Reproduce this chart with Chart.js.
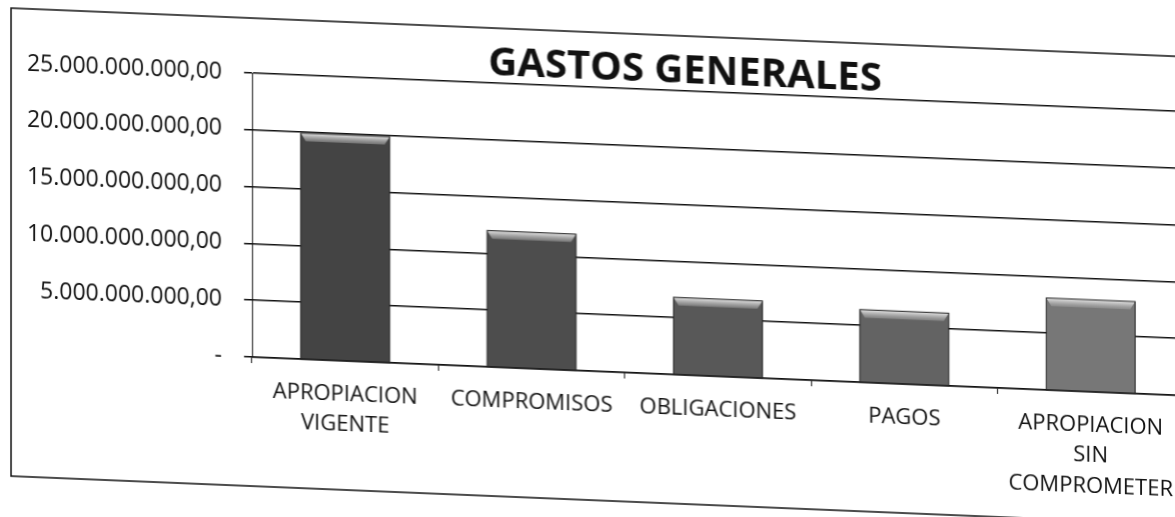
<!DOCTYPE html>
<html lang="es">
<head>
<meta charset="utf-8">
<title>Gastos generales</title>
<script src="https://cdn.jsdelivr.net/npm/chart.js@4.4.1/dist/chart.umd.min.js"></script>
<style>
    html, body { margin: 0; padding: 0; background: #fff; overflow: hidden; }
    #chartBox { width: 1185px; height: 517px; }
    /* la hoja escaneada está ligeramente inclinada */
    #gastosChart { transform: skewY(2.37deg); transform-origin: 250px 357px; }
</style>
</head>
<body>
<div id="chartBox"><canvas id="gastosChart" width="1185" height="517"></canvas></div>
<script>
// Categorías del eje X
const categorias = [
    ['APROPIACION', 'VIGENTE'],
    'COMPROMISOS',
    'OBLIGACIONES',
    'PAGOS',
    ['APROPIACION', 'SIN', 'COMPROMETER']
];

// Valores (pesos)
const valores = [19900000000, 12000000000, 6800000000, 6400000000, 8100000000];

// Marcas del eje Y
const marcasY = [0, 5000000000, 10000000000, 15000000000, 20000000000, 25000000000];

// Colores de las barras (tono del escaneo)
const coloresBarras = ['#444444', '#4d4d4d', '#585858', '#636363', '#777777'];

const tituloGrafico = 'GASTOS GENERALES';

/**
 * Formato 25.000.000.000,00 ; el cero se muestra como "-"
 */
function formatoPesos(v) {
    if (v === 0) {
        return '-';
    }
    const entero = Math.round(v).toString().replace(/\B(?=(\d{3})+(?!\d))/g, '.');
    return entero + ',00';
}

// Marco exterior y título
const marcoPlugin = {
    id: 'marco',
    beforeDraw(chart) {
        const ctx = chart.ctx;
        ctx.save();
        ctx.fillStyle = '#ffffff';
        ctx.fillRect(0, 0, chart.width, chart.height);
        ctx.strokeStyle = '#111';
        ctx.lineWidth = 1.5;
        ctx.strokeRect(11, 18, chart.width + 20, 468);
        ctx.restore();
    },
    afterDraw(chart) {
        const ctx = chart.ctx;
        ctx.save();
        ctx.font = 'bold 40px "Open Sans"';
        ctx.fillStyle = '#111';
        ctx.textAlign = 'center';
        ctx.textBaseline = 'middle';
        ctx.fillText(tituloGrafico, 685, 54);
        ctx.restore();
    }
};

// Bisel claro en la parte superior de cada barra
const biselPlugin = {
    id: 'bisel',
    afterDatasetsDraw(chart) {
        const ctx = chart.ctx;
        const meta = chart.getDatasetMeta(0);
        meta.data.forEach(function(bar) {
            const p = bar.getProps(['x', 'y', 'width'], true);
            const izq = p.x - p.width / 2;
            const der = p.x + p.width / 2;
            const alto = 8;
            const grad = ctx.createLinearGradient(0, p.y, 0, p.y + alto);
            grad.addColorStop(0, '#e6e6e6');
            grad.addColorStop(1, 'rgba(150,150,150,0.6)');
            ctx.save();
            ctx.beginPath();
            ctx.moveTo(izq, p.y);
            ctx.lineTo(der, p.y);
            ctx.lineTo(der - 5, p.y + alto);
            ctx.lineTo(izq + 5, p.y + alto);
            ctx.closePath();
            ctx.fillStyle = grad;
            ctx.fill();
            ctx.strokeStyle = '#222';
            ctx.lineWidth = 1;
            ctx.strokeRect(izq, p.y, p.width, chart.scales.y.getPixelForValue(0) - p.y);
            ctx.restore();
        });
    }
};

const ctx = document.getElementById('gastosChart').getContext('2d');
const gastosChart = new Chart(ctx, {
    type: 'bar',
    data: {
        labels: categorias,
        datasets: [{
            data: valores,
            backgroundColor: coloresBarras,
            borderWidth: 0,
            categoryPercentage: 1,
            barPercentage: 0.477
        }]
    },
    options: {
        responsive: false,
        animation: false,
        layout: {
            padding: { top: 73, right: 0, bottom: 0, left: 0 }
        },
        plugins: {
            legend: { display: false },
            tooltip: { enabled: false },
            title: { display: false }
        },
        scales: {
            x: {
                offset: true,
                grid: {
                    display: true,
                    drawOnChartArea: false,
                    drawTicks: true,
                    tickLength: 6,
                    color: '#111',
                    lineWidth: 1
                },
                border: { display: true, color: '#111', width: 1.5 },
                ticks: {
                    color: '#111',
                    padding: 12,
                    maxRotation: 0,
                    autoSkip: false,
                    font: { family: '"Open Sans"', size: 22, lineHeight: 1.4 }
                },
                afterFit: function(scale) {
                    scale.height = 517 - 357;
                }
            },
            y: {
                min: 0,
                max: 25000000000,
                grid: {
                    color: '#111',
                    lineWidth: 1.5,
                    tickLength: 8
                },
                border: { display: true, color: '#111', width: 1 },
                ticks: {
                    color: '#111',
                    padding: 22,
                    font: { family: '"Open Sans"', size: 23 },
                    callback: function(value) {
                        return formatoPesos(value);
                    }
                },
                afterBuildTicks: function(scale) {
                    scale.ticks = marcasY.map(function(v) { return { value: v }; });
                },
                afterFit: function(scale) {
                    scale.width = 252;
                }
            }
        }
    },
    plugins: [marcoPlugin, biselPlugin]
});
</script>
</body>
</html>
